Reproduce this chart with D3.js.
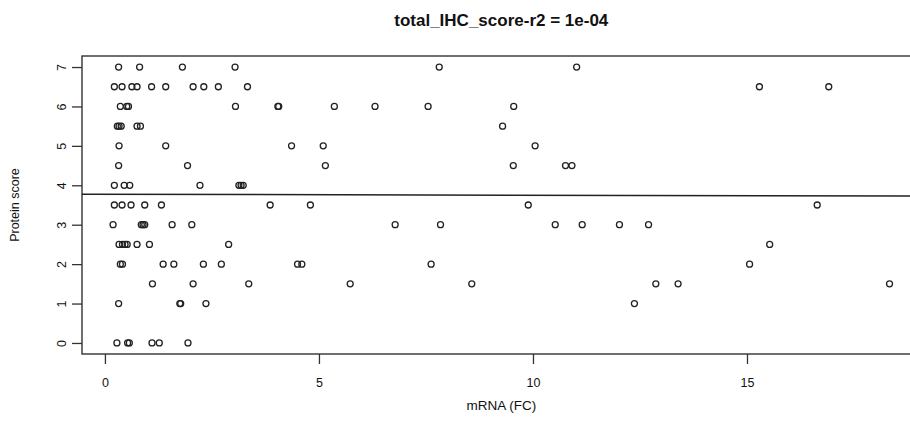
<!doctype html>
<html>
<head>
<meta charset="utf-8">
<style>
	body { margin: 0; background: #fff; }
	svg text { font-family: "Liberation Sans", Arial, sans-serif; fill: #111; }
</style>
</head>
<body>
	<div class="chart"></div>

	<script src="https://d3js.org/d3.v7.min.js"></script>
	<script>
		// mRNA fold change (x) and protein score (y)
		let mrna = [
			0.32, 0.81, 1.81, 3.04, 7.81, 11.02,
			0.22, 0.40, 0.63, 0.75, 1.09, 1.42, 2.06, 2.31, 2.65, 3.33, 15.29, 16.91,
			0.36, 0.51, 0.55, 3.05, 4.04, 4.06, 5.36, 6.31, 7.55, 9.55,
			0.29, 0.33, 0.38, 0.75, 0.83, 9.29,
			0.33, 1.42, 4.36, 5.10, 10.05,
			0.32, 1.93, 5.15, 9.54, 10.76, 10.91,
			0.22, 0.45, 0.58, 2.22, 3.13, 3.18, 3.23,
			0.22, 0.40, 0.61, 0.93, 1.32, 3.86, 4.80, 9.89, 16.64,
			0.19, 0.85, 0.89, 0.93, 1.57, 2.03, 6.78, 7.84, 10.52, 11.15, 12.02, 12.70,
			0.33, 0.41, 0.47, 0.52, 0.75, 1.04, 2.89, 15.53,
			0.36, 0.41, 1.36, 1.61, 2.30, 2.72, 4.50, 4.60, 7.62, 15.06,
			1.11, 2.06, 3.36, 5.73, 8.57, 12.87, 13.39, 18.33,
			0.32, 1.75, 1.77, 2.36, 12.37,
			0.28, 0.53, 0.57, 1.10, 1.27, 1.94
		];
		let protein = [
			7, 7, 7, 7, 7, 7,
			6.5, 6.5, 6.5, 6.5, 6.5, 6.5, 6.5, 6.5, 6.5, 6.5, 6.5, 6.5,
			6, 6, 6, 6, 6, 6, 6, 6, 6, 6,
			5.5, 5.5, 5.5, 5.5, 5.5, 5.5,
			5, 5, 5, 5, 5,
			4.5, 4.5, 4.5, 4.5, 4.5, 4.5,
			4, 4, 4, 4, 4, 4, 4,
			3.5, 3.5, 3.5, 3.5, 3.5, 3.5, 3.5, 3.5, 3.5,
			3, 3, 3, 3, 3, 3, 3, 3, 3, 3, 3, 3,
			2.5, 2.5, 2.5, 2.5, 2.5, 2.5, 2.5, 2.5,
			2, 2, 2, 2, 2, 2, 2, 2, 2, 2,
			1.5, 1.5, 1.5, 1.5, 1.5, 1.5, 1.5, 1.5,
			1, 1, 1, 1, 1,
			0, 0, 0, 0, 0, 0
		];
		let xTicks = [0, 5, 10, 15];
		let yTicks = [0, 1, 2, 3, 4, 5, 6, 7];

		// fitted line (abline of lm)
		let fitIntercept = 3.771;
		let fitSlope = -0.0022;

		let titleText = "total_IHC_score-r2 = 1e-04";
		let xLabel = "mRNA (FC)";
		let yLabel = "Protein score";

		let width = 910,
			height = 430,
			marginLeft = 82,
			marginTop = 56,
			plotW = 838.6,
			plotH = 298;

		let svg = d3.select(".chart")
			.append("svg")
			.attr("width", width)
			.attr("height", height);

		// R style axis range: data range stretched by 4% each side
		let pad = (lo, hi) => [lo - 0.04 * (hi - lo), hi + 0.04 * (hi - lo)];

		let scaleX = d3.scaleLinear()
			.domain(pad(d3.min(mrna), d3.max(mrna)))
			.range([marginLeft, marginLeft + plotW]);

		let scaleY = d3.scaleLinear()
			.domain(pad(d3.min(protein), d3.max(protein)))
			.range([marginTop + plotH, marginTop]);

		// box round the plot region
		svg.append("rect")
			.attr("x", marginLeft)
			.attr("y", marginTop)
			.attr("width", plotW)
			.attr("height", plotH)
			.style("fill", "none")
			.style("stroke", "#333")
			.style("stroke-width", 1.4);

		// x axis
		let xAxis = d3.axisBottom(scaleX)
			.tickValues(xTicks)
			.tickSize(10)
			.tickFormat(d3.format("d"));

		let gx = svg.append("g")
			.attr("transform", "translate(0," + (marginTop + plotH) + ")")
			.call(xAxis);
		gx.select(".domain").remove();
		gx.selectAll(".tick line").style("stroke", "#333").style("stroke-width", 1.3);
		gx.selectAll(".tick text")
			.attr("y", 0)
			.attr("dy", null)
			.attr("transform", "translate(0,33)")
			.style("font-size", "12.5px")
			.style("fill", "#111");

		// y axis, labels turned like R's las = 0
		let yAxis = d3.axisLeft(scaleY)
			.tickValues(yTicks)
			.tickSize(10)
			.tickFormat(d3.format("d"));

		let gy = svg.append("g")
			.attr("transform", "translate(" + marginLeft + ",0)")
			.call(yAxis);
		gy.select(".domain").remove();
		gy.selectAll(".tick line").style("stroke", "#333").style("stroke-width", 1.3);
		gy.selectAll(".tick text")
			.attr("x", 0)
			.attr("dy", null)
			.attr("transform", "translate(-16,0) rotate(-90)")
			.style("text-anchor", "middle")
			.style("font-size", "12.5px")
			.style("fill", "#111");

		// points
		let points = mrna.map((d, i) => ({ x: d, y: protein[i] }));

		svg.append("g")
			.selectAll("circle")
			.data(points)
			.enter()
			.append("circle")
			.attr("cx", d => scaleX(d.x))
			.attr("cy", d => scaleY(d.y))
			.attr("r", 3)
			.style("fill", "none")
			.style("stroke", "#222")
			.style("stroke-width", 1.3);

		// regression line across the whole plot region
		let xd = scaleX.domain();
		let lineF = d3.line()
			.x(d => scaleX(d))
			.y(d => scaleY(fitIntercept + fitSlope * d));

		svg.append("path")
			.attr("d", lineF(xd))
			.style("fill", "none")
			.style("stroke", "#222")
			.style("stroke-width", 1.5);

		// title and axis titles
		svg.append("text")
			.attr("x", marginLeft + plotW / 2)
			.attr("y", 26)
			.style("text-anchor", "middle")
			.style("font-size", "17px")
			.style("font-weight", "bold")
			.text(titleText);

		svg.append("text")
			.attr("x", marginLeft + plotW / 2)
			.attr("y", 410)
			.style("text-anchor", "middle")
			.style("font-size", "13.5px")
			.text(xLabel);

		svg.append("text")
			.attr("transform", "translate(19," + (marginTop + plotH / 2) + ") rotate(-90)")
			.style("text-anchor", "middle")
			.style("font-size", "12.5px")
			.text(yLabel);
	</script>
</body>
</html>
